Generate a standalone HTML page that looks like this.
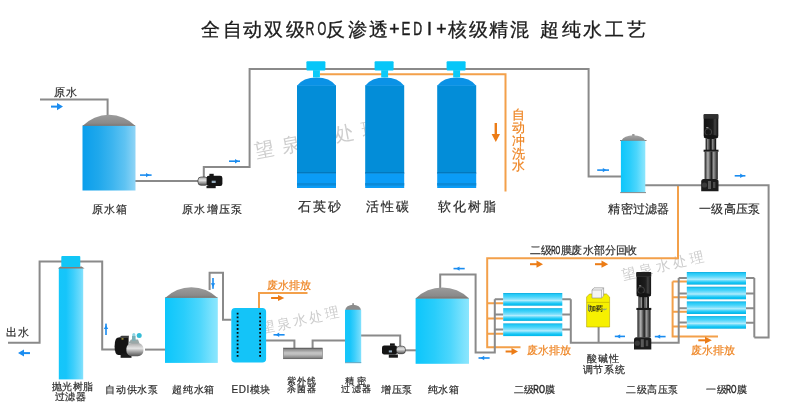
<!DOCTYPE html>
<html><head><meta charset="utf-8">
<style>
html,body{margin:0;padding:0;background:#fff;}
body{width:790px;height:405px;overflow:hidden;font-family:"Liberation Sans",sans-serif;}
svg{display:block;will-change:transform;}
.lb{font-family:"Liberation Sans",sans-serif;fill:#2b2b2b;stroke:#2b2b2b;stroke-width:0.2px;}
.or{font-family:"Liberation Sans",sans-serif;fill:#ee8422;stroke:#ee8422;stroke-width:0.2px;}
.tt{fill:#1c1c1c;stroke:#1c1c1c;stroke-width:0.3px;}
.tl{fill:#1c1c1c;stroke:#1c1c1c;stroke-width:0.45px;}
.wm{font-family:"Liberation Serif",serif;fill:#cdcdcd;}
</style></head>
<body>
<svg width="790" height="405" viewBox="0 0 790 405">
<defs>
  <linearGradient id="gBlue" x1="0" x2="1" y1="0" y2="0">
    <stop offset="0" stop-color="#0a9eec"/><stop offset="0.3" stop-color="#1fa8ec"/><stop offset="0.55" stop-color="#3bb4ef"/><stop offset="0.8" stop-color="#5fc3f2"/><stop offset="1" stop-color="#8fd4f6"/>
  </linearGradient>
  <linearGradient id="gCyan" x1="0" x2="1" y1="0" y2="0">
    <stop offset="0" stop-color="#0cc6fb"/><stop offset="0.35" stop-color="#28cdfb"/><stop offset="0.65" stop-color="#4cd6fc"/><stop offset="0.9" stop-color="#7ce2fd"/><stop offset="1" stop-color="#8ce6fd"/>
  </linearGradient>
  <linearGradient id="gCol" x1="0" x2="1" y1="0" y2="0">
    <stop offset="0" stop-color="#14c6fa"/><stop offset="0.3" stop-color="#16c5fa"/><stop offset="0.6" stop-color="#3ecffb"/><stop offset="0.9" stop-color="#6edbfc"/><stop offset="1" stop-color="#86e2fd"/>
  </linearGradient>
  <linearGradient id="gPf" x1="0" x2="1" y1="0" y2="0">
    <stop offset="0" stop-color="#6cd3f5"/><stop offset="0.6" stop-color="#86dbf7"/><stop offset="1" stop-color="#b0e7fa"/>
  </linearGradient>
  <linearGradient id="gDome2" x1="0" x2="0" y1="0" y2="1"><stop offset="0" stop-color="#a6a6a6"/><stop offset="1" stop-color="#888"/></linearGradient>
  <linearGradient id="gDome" x1="0" x2="0" y1="0" y2="1">
    <stop offset="0" stop-color="#9c9c9c"/><stop offset="0.75" stop-color="#8a8a8a"/><stop offset="1" stop-color="#7c7470"/>
  </linearGradient>
  <linearGradient id="gMem" x1="0" x2="0" y1="0" y2="1">
    <stop offset="0" stop-color="#0ea6d8"/><stop offset="0.1" stop-color="#22c8f6"/><stop offset="0.3" stop-color="#48d4fa"/><stop offset="0.5" stop-color="#8ae2fc"/><stop offset="0.58" stop-color="#b4eefe"/><stop offset="0.7" stop-color="#5cd8fa"/><stop offset="0.85" stop-color="#10c4f4"/><stop offset="0.95" stop-color="#08bcee"/><stop offset="1" stop-color="#0aa6d6"/>
  </linearGradient>
  <linearGradient id="gUV" x1="0" x2="0" y1="0" y2="1">
    <stop offset="0" stop-color="#555"/><stop offset="0.12" stop-color="#8a8a8a"/><stop offset="0.45" stop-color="#c6c6c6"/><stop offset="0.62" stop-color="#bababa"/><stop offset="0.88" stop-color="#8a8a8a"/><stop offset="1" stop-color="#505050"/>
  </linearGradient>
  <linearGradient id="gSilver" x1="0" x2="0" y1="0" y2="1">
    <stop offset="0" stop-color="#a8a8a8"/><stop offset="0.4" stop-color="#e4e4e4"/><stop offset="0.7" stop-color="#9a9a9a"/><stop offset="1" stop-color="#555"/>
  </linearGradient>
  <linearGradient id="gSteel" x1="0" x2="1" y1="0" y2="0">
    <stop offset="0" stop-color="#1e1e1e"/><stop offset="0.25" stop-color="#b4b4b4"/><stop offset="0.42" stop-color="#555"/><stop offset="0.52" stop-color="#222"/><stop offset="0.68" stop-color="#9a9a9a"/><stop offset="0.85" stop-color="#555"/><stop offset="1" stop-color="#1a1a1a"/>
  </linearGradient>
  <linearGradient id="gMotor" x1="0" x2="1" y1="0" y2="0">
    <stop offset="0" stop-color="#111"/><stop offset="0.6" stop-color="#1c1c1c"/><stop offset="0.8" stop-color="#3a3a3a"/><stop offset="1" stop-color="#111"/>
  </linearGradient>
</defs>

<!-- watermarks -->
<g class="wm">
  <text font-size="19.5" transform="translate(256,158) rotate(-11)" letter-spacing="7.2">望泉水处理</text>
  <text font-size="14" transform="translate(262,333) rotate(-12)" letter-spacing="2.3">望泉水处理</text>
  <text font-size="14" transform="translate(622.5,279.5) rotate(-13)" letter-spacing="3.5">望泉水处理</text>
</g>

<!-- ============ ORANGE PIPES ============ -->
<g fill="none" stroke="#f3a04a" stroke-width="2">
  <path d="M320,74.2 H505.5 V191.5"/>
  <path d="M678,186 V258.3 H487.2 V347.2 H520.5"/>
  <path d="M487.2,303.3 H503.5 M487.2,318.5 H503.5 M487.2,333.7 H503.5"/>
  <path d="M672.6,281.5 V336.6 H718"/>
  <path d="M672.6,281.5 H687 M672.6,297.2 H687 M672.6,311.8 H687 M672.6,326.4 H687"/>
  <path d="M259,308.5 V293 H307.5"/>
</g>

<!-- ============ GRAY PIPES ============ -->
<g fill="none" stroke="#8a8a8a" stroke-width="2">
  <path d="M40,99.5 H107.6 V116"/>
  <path d="M135,181.1 H199"/>
  <path d="M203.8,177 V167.1 H249.6 V68.9 H588.6 V176.5 H622"/>
  <path d="M645,185.3 H768.6 V337.4 H754.3"/>
  <path d="M754.3,278 V337.4"/>
  <path d="M746,278 H754.4 M746,293.6 H754.4 M746,308.3 H754.4 M746,322.8 H754.4"/>
  <path d="M678.7,278 V342.8 H650"/>
  <path d="M678.7,278 H687 M678.7,293.4 H687 M678.7,308.2 H687 M678.7,322.6 H687"/>
  <path d="M570.8,299.2 V342.8 H636"/>
  <path d="M562,299.2 H570.8 M562,314.6 H570.8 M562,329.6 H570.8"/>
  <path d="M598.6,327 V342.8"/>
  <path d="M494.8,299.2 V352.4 H475.6 V274.4 H440.2 V289"/>
  <path d="M494.8,299.2 H503.5 M494.8,314.6 H503.5 M494.8,329.6 H503.5"/>
  <path d="M405,350.3 H416"/>
  <path d="M400.2,346 V335.6 H361"/>
  <path d="M345.5,340.6 H312.6 V348.5"/>
  <path d="M294.4,348.5 V340.6 H266"/>
  <path d="M231.5,319.8 H223 V272.8 H209.6 V290"/>
  <path d="M165,349.6 H145"/>
  <path d="M115,349.6 H102.2 V261.6 H39.6 V342.8 H8"/>
</g>

<!-- ============ TANKS ============ -->
<!-- 原水箱 -->
<path d="M82.5,126 A36.9,36.9 0 0 1 135.5,126 Z" fill="url(#gDome)"/>
<rect x="82.5" y="125.5" width="53" height="65" fill="url(#gBlue)"/>
<rect x="83" y="125.2" width="52" height="0.8" fill="#8a766c" opacity="0.8"/>
<!-- 超纯水箱 -->
<path d="M165,298 A37.5,37.5 0 0 1 217.8,298 Z" fill="url(#gDome)"/>
<rect x="165" y="297.6" width="52.8" height="65.3" fill="url(#gCyan)"/>
<rect x="165.5" y="297.2" width="51.8" height="0.8" fill="#8a766c" opacity="0.8"/>
<!-- 纯水箱 -->
<path d="M415.6,298.6 A37.4,37.4 0 0 1 469,298.6 Z" fill="url(#gDome)"/>
<rect x="415.6" y="298.2" width="53.4" height="65.6" fill="url(#gCyan)"/>
<rect x="416" y="297.9" width="52.6" height="0.8" fill="#8a766c" opacity="0.8"/>
<!-- 精密过滤器 1 -->
<path d="M621.5,140.6 Q624,135.6 633.3,135.3 Q642.6,135.6 645.2,140.6 Z" fill="url(#gDome2)"/>
<rect x="632.2" y="134" width="2.3" height="2" fill="#999"/>
<rect x="620" y="140" width="26.5" height="1" fill="#8a7a74"/>
<rect x="620.9" y="140.7" width="24.4" height="51.9" fill="url(#gCyan)"/>
<rect x="620.2" y="192.1" width="25.8" height="1" fill="#8a8a8a"/>
<!-- 精密过滤器 2 -->
<path d="M345.3,310.2 A7.8,5.5 0 0 1 360.9,310.2 Z" fill="#8c8c8c"/>
<rect x="352.3" y="303.2" width="1.6" height="2" fill="#8c8c8c"/>
<rect x="345" y="309.8" width="16.2" height="53.3" fill="url(#gCol)"/>
<rect x="345" y="362" width="16.2" height="1.1" fill="#6aaec8"/>
<!-- 抛光树脂 column -->
<rect x="58.8" y="267.6" width="24.4" height="111.8" fill="url(#gCol)"/>
<path d="M60.5,266.6 L81.5,266.6 L84.6,268.6 L58,268.6 Z" fill="#8a7c74"/>
<rect x="61.3" y="255.9" width="19" height="11" rx="1" fill="#12c6f6"/>

<!-- ============ RESIN VESSELS ============ -->
<g id="v">
  <rect x="297" y="85.3" width="39" height="88.5" fill="#038dd8"/>
  <path d="M297,85.8 A22,15.3 0 0 1 336,85.8 Z" fill="#0a92e6"/>
  <rect x="297" y="172.3" width="39" height="1.3" fill="#0570b2"/>
  <rect x="297" y="173.5" width="39" height="14.5" fill="#0b9cf6"/>
  <rect x="297" y="183" width="39" height="2.6" fill="#0a8ad8"/>
  <rect x="313" y="70.2" width="6.9" height="7.2" fill="#0ccaf8"/>
  <rect x="306.4" y="61.2" width="19" height="9.3" rx="1" fill="#06c6f8"/>
</g>
<use href="#v" x="68.2"/>
<use href="#v" x="140.2"/>

<!-- ============ MEMBRANES ============ -->
<g id="m1">
  <rect x="686.8" y="272" width="59.2" height="12.6" fill="url(#gMem)"/>
</g>
<use href="#m1" y="14.7"/>
<use href="#m1" y="29.4"/>
<use href="#m1" y="44.1"/>
<g id="m2">
  <rect x="503.2" y="293" width="59.1" height="12.7" fill="url(#gMem)"/>
</g>
<use href="#m2" y="15.2"/>
<use href="#m2" y="30.4"/>

<!-- ============ EDI ============ -->
<rect x="231.3" y="308" width="34.8" height="54.5" rx="3.8" fill="#14c4f8"/>
<path d="M237.6,312.7 V357 M260.1,312.7 V357" stroke="#0a0a0a" stroke-width="1.8" stroke-dasharray="1.8 2.05" fill="none"/>

<!-- ============ UV ============ -->
<rect x="283.5" y="348" width="38.8" height="10.8" fill="url(#gUV)" stroke="#5a5a5a" stroke-width="0.5"/>

<!-- ============ 加药 tank ============ -->
<path d="M586.6,327 V297 L589.5,294 H606.5 L609.6,297 V327 Z" fill="#f6f000" stroke="#b0a000" stroke-width="0.6"/>
<path d="M586.8,302.4 H609.4" stroke="#b8a800" stroke-width="0.6"/>
<path d="M592,290 L594,287.8 H603.6 V296 L601.5,298 H592 Z" fill="#f4f4f4" stroke="#888" stroke-width="0.6"/>
<path d="M592,290 H601.5 V298 M601.5,290 L603.6,287.8" stroke="#888" stroke-width="0.5" fill="none"/>
<rect x="588.4" y="304.5" width="0.9" height="6.6" fill="#1040c0"/>
<text x="589.4" y="311" font-size="7" fill="#1a1a1a" stroke="#1a1a1a" stroke-width="0.15" font-family="Liberation Sans,sans-serif">加药</text>
<text x="603" y="310.6" font-size="5" fill="#5080c0" font-family="Liberation Sans,sans-serif">↵</text>

<!-- ============ PUMPS ============ -->
<!-- 原水增压泵: silver head left, motor right -->
<g>
  <rect x="198" y="177" width="10" height="8.3" rx="3" fill="url(#gSilver)" stroke="#222" stroke-width="0.6"/>
  <rect x="206.6" y="175.8" width="15.8" height="10.2" rx="2.2" fill="#151515"/>
  <rect x="209.4" y="173.8" width="4.3" height="2.6" fill="#151515"/>
  <rect x="211.7" y="180.7" width="4" height="2.3" fill="#9ab0c0"/>
  <rect x="206.5" y="186" width="9.2" height="2.2" fill="#1a1a1a"/>
</g>
<!-- 增压泵: motor left, silver right -->
<g>
  <rect x="382" y="345.4" width="15.1" height="9.1" rx="2.2" fill="#151515"/>
  <rect x="390" y="343.4" width="4.8" height="2.4" fill="#151515"/>
  <rect x="396.3" y="346.2" width="9.1" height="7.5" rx="3" fill="url(#gSilver)" stroke="#222" stroke-width="0.6"/>
  <rect x="388.8" y="350.4" width="3.2" height="2" fill="#9ab0c0"/>
  <rect x="388.8" y="354.5" width="9.1" height="3.2" fill="#1a1a1a"/>
</g>
<!-- 自动供水泵 -->
<g>
  <path d="M118.5,337.6 H128.6 V355 H118.5 Q114.6,355 114.6,346.3 Q114.6,337.6 118.5,337.6 Z" fill="#141414"/>
  <path d="M118.8,337.8 L121.5,335.8 H129 L128.6,338 Z" fill="#3c3c3c"/>
  <rect x="121.5" y="338.2" width="2" height="1.4" fill="#b0a040"/>
  <rect x="120.6" y="353.2" width="10.9" height="4.6" fill="#1a1a1a"/>
  <rect x="126.4" y="343.1" width="17" height="13.1" rx="5.5" fill="url(#gSilver)"/>
  <path d="M128,343.5 L131,339.5 H138 L139.5,343.5 Z" fill="#9aa8a8"/>
  <rect x="132" y="335.6" width="3.6" height="5" fill="#7ab0b8"/>
  <circle cx="139.2" cy="335.6" r="2.5" fill="#34bcd6"/>
  <circle cx="133.8" cy="334.6" r="1.5" fill="#8ad4e4"/>
</g>
<!-- vertical pump 一级高压泵 -->
<g id="vp">
  <rect x="703.7" y="114.2" width="14.6" height="22.8" rx="1.2" fill="url(#gMotor)"/>
  <rect x="703.7" y="114.2" width="14.6" height="4.5" fill="#303030"/>
  <rect x="714.2" y="119" width="1.4" height="17" fill="#3c3c3c"/>
  <circle cx="708.3" cy="132" r="3.4" fill="none" stroke="#4a4a4a" stroke-width="0.8"/>
  <rect x="706.2" y="127" width="2.2" height="1.2" fill="#888"/>
  <ellipse cx="711" cy="137" rx="7.3" ry="2.2" fill="#141414"/>
  <rect x="705.6" y="138.5" width="10.6" height="11.5" fill="#1a1a1a"/>
  <rect x="706.3" y="139" width="3.6" height="11" fill="url(#gSteel)"/>
  <rect x="711.3" y="139" width="3.6" height="11" fill="url(#gSteel)"/>
  <rect x="703.6" y="149.7" width="14.9" height="2.1" fill="#1a1a1a"/>
  <rect x="704.6" y="151.8" width="13.2" height="27.4" fill="url(#gSteel)"/>
  <path d="M701.2,181.5 Q701.2,179 703.7,179 H716 Q718.5,179 718.5,181.5 V191.3 H701.2 Z" fill="#1c1c1c"/>
  <circle cx="704.5" cy="185" r="2.6" fill="#3a3a3a"/>
  <rect x="708" y="181" width="3" height="8" fill="#5a5a5a"/>
  <rect x="713" y="182" width="2.4" height="6" fill="#4a4a4a"/>
</g>
<use href="#vp" x="-67.2" y="158.2"/>
<rect x="636.5" y="272" width="14.6" height="4" fill="#202020"/>

<!-- ============ BLUE ARROWS ============ -->
<g fill="#1a8cf0">
  <!-- big right -->
  <rect x="51" y="105.6" width="7" height="2"/><path d="M57,103 L63,106.6 L57,110.2 Z"/>
  <!-- big left (出水) -->
  <rect x="23" y="352.1" width="7" height="2"/><path d="M24,349.6 L18,353.1 L24,356.6 Z"/>
  <!-- small right -->
  <rect x="140" y="174.3" width="11.6" height="1.6"/><path d="M146,172.9 L149.6,175.1 L146,177.3 Z"/>
  <rect x="229" y="160.4" width="11" height="1.6"/><path d="M235,159 L238.6,161.2 L235,163.4 Z"/>
  <rect x="597.2" y="169.3" width="11.8" height="1.6"/><path d="M602.8,167.9 L606.4,170.1 L602.8,172.3 Z"/>
  <rect x="734.7" y="175" width="10.7" height="1.6"/><path d="M740.2,173.6 L743.8,175.8 L740.2,178 Z"/>
  <!-- small left -->
  <rect x="453.5" y="267.8" width="11.2" height="1.6"/><path d="M459.5,266.4 L455.9,268.6 L459.5,270.8 Z"/>
  <rect x="478.5" y="357.2" width="11.1" height="1.6"/><path d="M484.2,355.8 L480.6,358 L484.2,360.2 Z"/>
  <rect x="614.8" y="335.6" width="10.2" height="1.6"/><path d="M620.2,334.2 L616.6,336.4 L620.2,338.6 Z"/>
  <rect x="654.8" y="335.8" width="10.8" height="1.6"/><path d="M660.2,334.4 L656.6,336.6 L660.2,338.8 Z"/>
  <rect x="273.5" y="334" width="11.1" height="1.6"/><path d="M279.2,332.6 L275.6,334.8 L279.2,337 Z"/>
  <!-- down -->
  <rect x="212.2" y="278" width="1.6" height="10.8"/><path d="M210.8,283.2 L213,287 L215.2,283.2 Z"/>
  <!-- up -->
  <rect x="105.2" y="323.6" width="1.6" height="11.4"/><path d="M103.8,329 L106,325.2 L108.2,329 Z"/>
</g>

<!-- ============ ORANGE ARROWS ============ -->
<g fill="#ec7c16">
  <rect x="494.6" y="123" width="2.4" height="12.5"/><path d="M491.6,134 L500,134 L495.8,142 Z"/>
  <rect x="530" y="263.2" width="7.5" height="2"/><path d="M536.5,260.6 L543,264.2 L536.5,267.8 Z"/>
  <rect x="595" y="263.2" width="7.5" height="2"/><path d="M601.5,260.6 L608.2,264.2 L601.5,267.8 Z"/>
  <rect x="505.6" y="350.5" width="7" height="2"/><path d="M511.5,348 L518,351.5 L511.5,355 Z"/>
  <rect x="698.3" y="339.3" width="7.5" height="2"/><path d="M705,336.8 L711.8,340.3 L705,343.8 Z"/>
  <rect x="271.1" y="297" width="7.5" height="2"/><path d="M278,295.1 L284.3,298 L278,300.9 Z"/>
</g>

<!-- ============ TEXT ============ -->
<text class="lb tt" font-size="18.5" y="36" x="201 222.7 243 264.3 286.1">全自动双级</text>
<g class="lb tl" font-size="17.6">
<text transform="translate(305.6,35.1) scale(0.7,1)">R</text>
<text transform="translate(317.4,35.1) scale(0.64,1)">O</text>
<text x="389.3" y="35.1">+</text>
<text transform="translate(401.6,35.1) scale(0.75,1)">E</text>
<text transform="translate(413.2,35.1) scale(0.7,1)">D</text>
<text x="427" y="35.1">I</text>
<text x="436.3" y="35.1">+</text>
</g>
<text class="lb tt" font-size="18.5" y="36" x="326.1 348.2 368.6">反渗透</text>

<text class="lb tt" font-size="18.5" y="36" x="448.4 468.5 488.9 510.1 540.3 561.5 582.8 605 627.2">核级精混超纯水工艺</text>

<text class="lb" font-size="11" x="53.5" y="96" letter-spacing="1.2">原水</text>
<text class="lb" font-size="11" x="91.5" y="212.8" letter-spacing="1.2">原水箱</text>
<text class="lb" font-size="11" x="182" y="212.6" letter-spacing="1.3">原水增压泵</text>
<text class="lb" font-size="12.5" x="298" y="211" letter-spacing="2.2">石英砂</text>
<text class="lb" font-size="12.5" x="365.6" y="211" letter-spacing="2.2">活性碳</text>
<text class="lb" font-size="12.5" x="437.5" y="211" letter-spacing="2.2">软化树脂</text>
<text class="lb" font-size="11.5" x="608.3" y="212.8" letter-spacing="0.3">精密过滤器</text>
<text class="lb" font-size="11.5" x="699" y="212.5" letter-spacing="0.3">一级高压泵</text>
<text class="or" font-size="12.5" x="511.5" y="119.1">自</text>
<text class="or" font-size="12.5" x="511.5" y="131.9">动</text>
<text class="or" font-size="12.5" x="511.5" y="144.7">冲</text>
<text class="or" font-size="12.5" x="511.5" y="157.5">洗</text>
<text class="or" font-size="12.5" x="511.5" y="170.3">水</text>
<text class="lb" font-size="10.5" x="530.3 541.2" y="253.8">二级</text><text class="lb" font-size="10.5" x="551.2" y="253.8" textLength="9" lengthAdjust="spacingAndGlyphs" style="stroke-width:0.5px">RO</text><text class="lb" font-size="10.5" x="560.6 571.4 583.2 594 605.2 616.2 626.1" y="253.8">膜废水部分回收</text>
<text class="or" font-size="10.5" x="266.8" y="289.3">废水排放</text>
<text class="or" font-size="10.5" x="526.6" y="353.6">废水排放</text>
<text class="or" font-size="10.5" x="690.8" y="353.5">废水排放</text>
<text class="lb" font-size="10" x="587.2 597.9 608.6" y="361.8">酸碱性</text>
<text class="lb" font-size="10" x="582.7 593.4 603.8 614.8" y="373.4">调节系统</text>
<text class="lb" font-size="11.3" x="5.8" y="335.6" letter-spacing="1.2">出水</text>
<text class="lb" font-size="9.8" x="51.5" y="389.8" letter-spacing="0.6">抛光树脂</text>
<text class="lb" font-size="9.5" x="54.6" y="399.8" letter-spacing="0.5">过滤器</text>
<text class="lb" font-size="10" x="105" y="392.8" letter-spacing="0.8">自动供水泵</text>
<text class="lb" font-size="10" x="172" y="392.8" letter-spacing="0.8">超纯水箱</text>
<text class="lb" font-size="10" x="231.6" y="392.8" letter-spacing="0.5">EDI模块</text>
<text class="lb" font-size="8.8" x="287.4" y="383.6" letter-spacing="0.9">紫外线</text>
<text class="lb" font-size="8.8" x="287.4" y="392.4" letter-spacing="0.9">杀菌器</text>
<text class="lb" font-size="8.8" x="344.6 356.8" y="383.6">精密</text>
<text class="lb" font-size="8.8" x="341.4" y="392.4" letter-spacing="1.2">过滤器</text>
<text class="lb" font-size="10" x="381.2" y="392.8" letter-spacing="0.6">增压泵</text>
<text class="lb" font-size="10" x="427.6" y="393" letter-spacing="0.5">纯水箱</text>
<text class="lb" font-size="10" x="513.6 524.4" y="393">二级</text><text class="lb" font-size="10" x="533.3" y="393" textLength="11.6" lengthAdjust="spacingAndGlyphs" style="stroke-width:0.5px">RO</text><text class="lb" font-size="10" x="544.7" y="393">膜</text>
<text class="lb" font-size="10" x="626.3" y="393" letter-spacing="0.5">二级高压泵</text>
<text class="lb" font-size="10" x="706 716.6" y="393">一级</text><text class="lb" font-size="10" x="726" y="393" textLength="10.5" lengthAdjust="spacingAndGlyphs" style="stroke-width:0.5px">RO</text><text class="lb" font-size="10" x="736.7" y="393">膜</text>
</svg>
</body></html>
